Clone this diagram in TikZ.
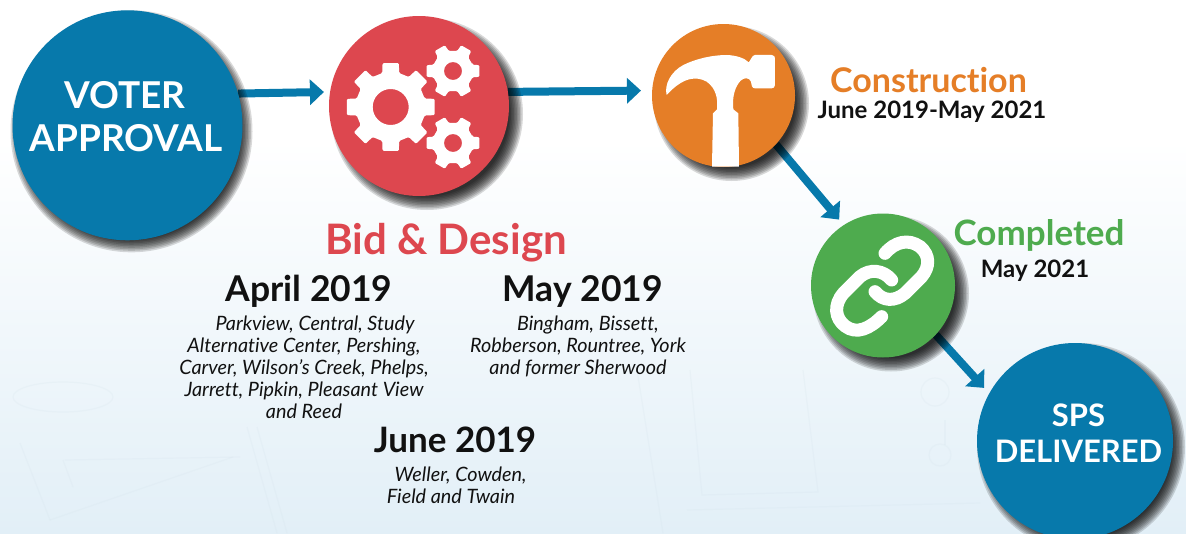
\documentclass[tikz,border=0pt]{standalone}
\usepackage{fontspec}
\setmainfont[Ligatures=NoCommon]{Lato}
\usetikzlibrary{arrows.meta,calc}
\definecolor{spsblue}{HTML}{0779AB}
\definecolor{spsred}{HTML}{DD474F}
\definecolor{spsorange}{HTML}{E57E27}
\definecolor{spsgreen}{HTML}{4EAB4E}
\definecolor{spsink}{HTML}{111111}
\definecolor{spspale}{HTML}{E2EFF7}
\definecolor{spsplan}{HTML}{D3E1EA}
\pgfdeclarelayer{paper}
\pgfdeclarelayer{links}
\pgfsetlayers{paper,links,main}
\tikzset{
  disc/.style={circle,inner sep=0pt,draw=none,fill=#1},
  link/.style={draw=spsblue,line width=8pt,-{Triangle[length=14pt,width=25pt]}},
  lbl/.style={anchor=base,inner sep=0pt,font=\bfseries\fontsize{#1}{#1}\selectfont},
  white lbl/.style={lbl=#1,text=white},
  list/.style={anchor=north,inner sep=0pt,align=center,text=spsink,
     font=\itshape\fontsize{19.8}{22}\selectfont},
  chain/.style={draw=white,line width=13pt,line cap=round},
  plan/.style={draw=spsplan,line width=1.2pt,opacity=0.2}
}
\newcommand{\softshadow}[5]{%
  \foreach \k in {0,...,9}{
    \fill[black,opacity=0.15] (#1+#4,#2+#5) circle ({#3+6-1.5*\k});
  }}
\newcommand{\gearshape}[8]{% cx cy outer root hole n tipHalf rootHalf
  \pgfmathsetmacro{\gpitch}{360/#6}
  \fill[white,even odd rule,rounded corners=1.2pt]
    ($(#1,#2)+(0-#8:#4)$)
    \foreach \i in {1,...,#6}{
      \pgfextra{\pgfmathsetmacro{\ga}{(\i-1)*\gpitch}}
      -- ($(#1,#2)+(\ga-#7:#3)$) -- ($(#1,#2)+(\ga+#7:#3)$)
      -- ($(#1,#2)+(\ga+#8:#4)$) -- ($(#1,#2)+(\ga+\gpitch-#8:#4)$)
    } -- cycle
    (#1,#2) circle (#5);
}
\begin{document}
\begin{tikzpicture}[x=1pt,y=-1pt]
\useasboundingbox (0,0) rectangle (1186,533);
\begin{pgfonlayer}{paper}
  \fill[white] (0,0) rectangle (1186,533);
  \shade[top color=white,bottom color=spspale] (0,140) rectangle (1186,533);
  % faint blueprint behind everything
  \draw[plan] (20,443) -- (50,520);
  \draw[plan] (63,460) -- (73,487);
  \draw[plan] (65,460) -- (240,457);
  \draw[plan] (50,520) -- (233,457);
  \draw[plan] (63,397) ellipse (50 and 15);
  \draw[plan] (247,427) -- (277,533);
  \draw[plan] (257,427) -- (287,533);
  \draw[plan] (690,370) -- (702,495) -- (818,492) -- (803,370);
  \draw[plan] (637,370) -- (663,533);
  \draw[plan] (687,510) -- (980,503);
  \draw[plan] (935,392) circle (14);
  \draw[plan] (940,455) circle (11);
  \draw[plan] (945,420) -- (945,445);
\end{pgfonlayer}

\softshadow{127.5}{125.3}{115}{4}{6}
\softshadow{419}{106}{90}{8}{8}
\softshadow{723.5}{95.5}{71.5}{8}{8}
\softshadow{883}{285.5}{72}{8}{8}
\softshadow{1075}{441}{98}{6}{6}

\node[disc=spsblue,minimum size=230pt] (voter) at (127.5,125.3) {};
\node[disc=spsred,minimum size=180pt] (bid) at (419,106) {};
\node[disc=spsorange,minimum size=143pt] (build) at (723.5,95.5) {};
\node[disc=spsgreen,minimum size=144pt] (done) at (883,285.5) {};
\node[disc=spsblue,minimum size=196pt] (sps) at (1075,441) {};

\begin{pgfonlayer}{links}
  \draw[link,shorten >=6pt] (voter.16) -- (bid.171.2);
  \draw[link,shorten >=11pt] (bid.9.6) -- (build.176.4);
  \draw[link,shorten >=7pt] (build.-43.9) -- (done.123.2);
  \draw[link,shorten >=7.4pt] (done.-43.6) -- (sps.151.3);
\end{pgfonlayer}

% gears
\gearshape{390.7}{107}{44.7}{35}{18}{8}{10.5}{14}
\gearshape{453}{71}{27}{20.5}{9}{6}{12.5}{18}
\gearshape{453}{143}{27}{20.5}{9}{6}{12.5}{18}

% hammer
\begin{scope}[shift={(640,30)},x=0.3333pt,y=-0.3333pt]
\fill[white] (216,410) -- (219,250) -- (231,238)
  .. controls (234,205) and (228,175) .. (200,155)
  .. controls (170,138) and (130,140) .. (80,195)
  .. controls (72,165) and (92,125) .. (130,105)
  .. controls (170,85) and (220,75) .. (260,75)
  .. controls (290,76) and (315,85) .. (326,97)
  .. controls (332,92) and (335,76) .. (345,75)
  -- (395,75) .. controls (402,75) and (405,80) .. (405,85)
  -- (405,165) .. controls (405,172) and (400,175) .. (395,175)
  -- (345,175) .. controls (335,175) and (335,165) .. (333,155)
  .. controls (328,142) and (312,142) .. (302,152)
  .. controls (285,170) and (276,200) .. (280,238)
  -- (295,250) -- (297,410) -- cycle;
\end{scope}

% chain
\begin{scope}[shift={(780,200)},x=0.3333pt,y=-0.3333pt]
\draw[chain] (315,160) .. controls (345,125) and (385,115) .. (420,140)
  .. controls (450,165) and (450,200) .. (425,230)
  -- (375,280) .. controls (345,305) and (310,305) .. (285,275);
\draw[chain] (335,240) .. controls (310,210) and (270,205) .. (240,230)
  -- (190,280) .. controls (160,315) and (165,355) .. (195,378)
  .. controls (230,405) and (270,385) .. (305,350);
\end{scope}

% circle labels
\node[white lbl=37] (l1) at (125,108) {VOTER};
\node[white lbl=37] (l2) at (126,151) {APPROVAL};
\node[white lbl=31] (l3) at (1078.5,426) {SPS};
\node[white lbl=31] (l4) at (1078.5,462) {DELIVERED};

% headings
\node[lbl=42,text=spsred] (h1) at (446,254) {Bid \& Design};
\node[lbl=35.5,text=spsink] (h2) at (309,301) {April 2019};
\node[lbl=35.5,text=spsink] (h3) at (583,301) {May 2019};
\node[lbl=35,text=spsink] (h4) at (455,452) {June 2019};
\node[lbl=34,text=spsorange] (h5) at (928.5,92) {Construction};
\node[lbl=24,text=spsink] (h6) at (932,118) {June 2019-May 2021};
\node[lbl=35,text=spsgreen] (h7) at (1039,245) {Completed};
\node[lbl=24,text=spsink] (h8) at (1035,277) {May 2021};

% lists
\node[list] (p1) at (304,316) {\hspace*{22pt}Parkview, Central, Study\\Alternative Center, Pershing,\\Carver, Wilson’s Creek, Phelps,\\Jarrett, Pipkin, Pleasant View\\and Reed};
\node[list] (p2) at (578,316) {\hspace*{20pt}Bingham, Bissett,\\Robberson, Rountree, York\\and former Sherwood};
\node[list] (p3) at (451,467) {\hspace*{19pt}Weller, Cowden,\\Field and Twain};
\end{tikzpicture}
\end{document}
